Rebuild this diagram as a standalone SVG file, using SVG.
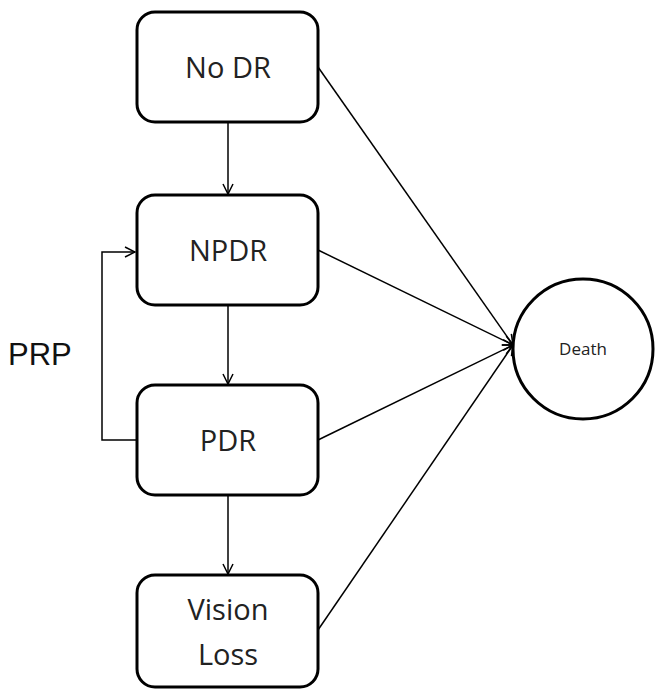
<svg xmlns="http://www.w3.org/2000/svg" width="664" height="699" viewBox="0 0 664 699">
<style>
.box{fill:#fff;stroke:#000;stroke-width:3}
.lbl{font-family:"Open Sans","Liberation Sans",sans-serif;font-size:29px;fill:#222;text-anchor:middle}
.con{fill:none;stroke:#000;stroke-width:1.5}
</style>
<defs>
<marker id="ah" viewBox="0 0 12 12" refX="11" refY="6" markerWidth="12" markerHeight="12" markerUnits="userSpaceOnUse" orient="auto">
<path d="M1,1 L11,6 L1,11" fill="none" stroke="#000" stroke-width="1.5"/>
</marker>
</defs>
<rect width="664" height="699" fill="#fff"/>
<g id="connectors">
<line class="con" x1="228" y1="122" x2="228" y2="194" marker-end="url(#ah)"/>
<line class="con" x1="228" y1="305" x2="228" y2="384" marker-end="url(#ah)"/>
<line class="con" x1="228" y1="495" x2="228" y2="574" marker-end="url(#ah)"/>
<polyline class="con" points="136,440 102,440 102,252 135,252" marker-end="url(#ah)"/>
<line class="con" x1="318" y1="67" x2="513" y2="345" marker-end="url(#ah)"/>
<line class="con" x1="318" y1="250" x2="513" y2="345" marker-end="url(#ah)"/>
<line class="con" x1="318" y1="440" x2="513" y2="345" marker-end="url(#ah)"/>
<line class="con" x1="318" y1="630" x2="513" y2="345" marker-end="url(#ah)"/>
</g>
<g id="nodr"><rect class="box" x="137" y="12" width="181" height="110" rx="18"/><text class="lbl" x="228" y="78">No DR</text></g>
<g id="npdr"><rect class="box" x="137" y="195" width="181" height="110" rx="18"/><text class="lbl" x="228" y="261">NPDR</text></g>
<g id="pdr"><rect class="box" x="137" y="385" width="181" height="110" rx="18"/><text class="lbl" x="228" y="451">PDR</text></g>
<g id="visionloss"><rect class="box" x="137" y="575" width="181" height="112" rx="18"/><text class="lbl" x="228" y="620">Vision</text><text class="lbl" x="228" y="665">Loss</text></g>
<g id="death"><circle cx="583" cy="349" r="70" fill="#fff" stroke="#000" stroke-width="3"/><text x="583" y="355" font-family="Open Sans,Liberation Sans,sans-serif" font-size="17" fill="#222" text-anchor="middle">Death</text></g>
<g id="prp"><text x="8" y="365" font-family="Liberation Sans,Arial,sans-serif" font-size="31" fill="#111">PRP</text></g>
</svg>
